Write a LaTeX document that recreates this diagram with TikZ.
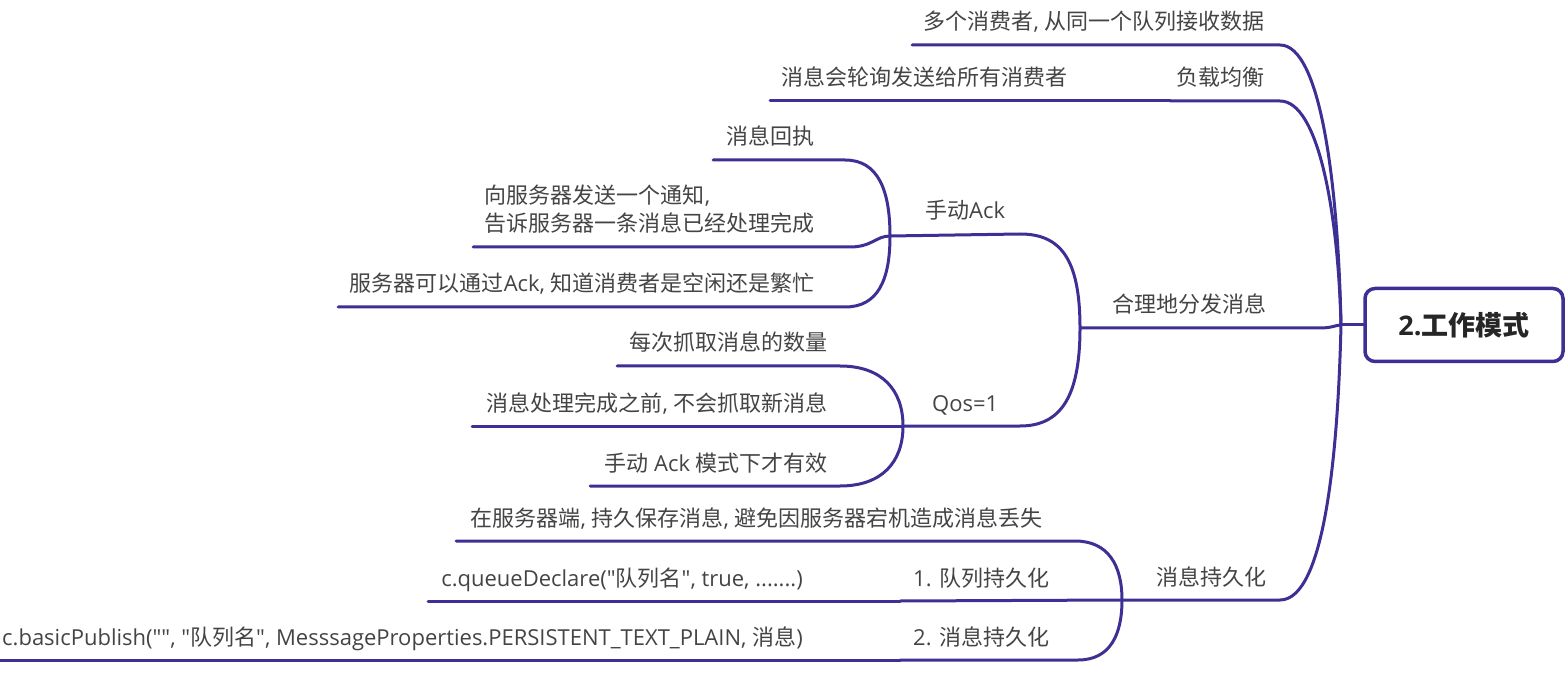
\documentclass[tikz,border=0pt]{standalone}
\usepackage{fontspec}
\setmainfont{Open Sans}[Ligatures=TeXOff]
\newfontfamily\cjkfont{Noto Sans CJK SC}
\newcommand{\zh}[1]{{\cjkfont #1}}
\definecolor{lineblue}{RGB}{61,48,148}
\definecolor{txt}{RGB}{68,68,68}
\tikzset{
  conn/.style={draw=lineblue, line width=3pt, line cap=round},
  topic/.style={anchor=base east, inner sep=0pt, text=txt, font=\fontsize{22}{28}\selectfont},
  topicL/.style={topic, anchor=base west},
  rootbox/.style={draw=lineblue, line width=3.5pt, rounded corners=10pt, fill=white,
    minimum width=198pt, minimum height=73pt, inner sep=0pt, text=black!85,
    font=\fontsize{27}{32}\selectfont}
}
\begin{document}
\begin{tikzpicture}[x=1pt,y=-1pt]
\useasboundingbox (0,0) rectangle (1566,684);

% ---------- junctions and line ends ----------
\coordinate (J0) at (1341,325);
\coordinate (J3) at (1080,328);
\coordinate (J3a) at (890,236);
\coordinate (J3b) at (903,426);
\coordinate (J4) at (1122,600);

\coordinate (a1s) at (912,45);   \coordinate (a1e) at (1280,45);
\coordinate (a2s) at (1170,101); \coordinate (a2e) at (1280,101);
\coordinate (a2cs) at (770,101);
\coordinate (a3e) at (1320,328);
\coordinate (a4e) at (1280,600);

\coordinate (b1e) at (1020,234);
\coordinate (b2e) at (1020,426);

\coordinate (m1s) at (713,160);  \coordinate (m1e) at (845,160);
\coordinate (m2s) at (473,247);  \coordinate (m2e) at (850,247);
\coordinate (m3s) at (338,307);  \coordinate (m3e) at (845,307);

\coordinate (q1s) at (617,366);  \coordinate (q1e) at (840,366);
\coordinate (q2s) at (472,426);
\coordinate (q3s) at (590,486);  \coordinate (q3e) at (840,486);

\coordinate (p1s) at (456,541);  \coordinate (p1e) at (1075,541);
\coordinate (p2s) at (900,601);  \coordinate (p2cs) at (428,601);
\coordinate (p3s) at (900,660);  \coordinate (p3e) at (1078,660);
\coordinate (p3cs) at (0,660);

% ---------- connectors ----------
\draw[conn] (a1s) -- (a1e) .. controls (1320,45) and (1338,180) .. (J0);
\draw[conn] (a2cs) -- (a2s);
\draw[conn] (a2s) -- (a2e) .. controls (1318,101) and (1338,210) .. (J0);
\draw[conn] (J3) -- (a3e) .. controls (1332,328) and (1336,325) .. (J0);
\draw[conn] (J4) -- (a4e) .. controls (1325,600) and (1338,450) .. (J0);

\draw[conn] (J3a) -- (b1e) .. controls (1060,234) and (1080,258) .. (J3);
\draw[conn] (J3b) -- (b2e) .. controls (1060,426) and (1080,398) .. (J3);

\draw[conn] (m1s) -- (m1e) .. controls (878,160) and (890,190) .. (J3a);
\draw[conn] (m2s) -- (m2e) .. controls (872,247) and (876,236) .. (J3a);
\draw[conn] (m3s) -- (m3e) .. controls (878,307) and (890,280) .. (J3a);

\draw[conn] (q1s) -- (q1e) .. controls (882,366) and (903,390) .. (J3b);
\draw[conn] (q2s) -- (J3b);
\draw[conn] (q3s) -- (q3e) .. controls (882,486) and (903,462) .. (J3b);

\draw[conn] (p1s) -- (p1e) .. controls (1108,541) and (1122,565) .. (J4);
\draw[conn] (p2cs) -- (p2s);
\draw[conn] (p2s) -- (J4);
\draw[conn] (p3cs) -- (p3s);
\draw[conn] (p3s) -- (p3e) .. controls (1110,660) and (1122,635) .. (J4);

% ---------- root ----------
\node[rootbox] (root) at (1464,325) {\textbf{2.\zh{工作模式}}};
\draw[conn] (root.west) -- (J0);

% ---------- topics ----------
\node[topic] (t1) at (1265,30) {\zh{多个消费者}, \zh{从同一个队列接收数据}};
\node[topic] (t2) at (1265,86) {\zh{负载均衡}};
\node[topic] (t2c) at (1068,86) {\zh{消息会轮询发送给所有消费者}};
\node[topic] (t3) at (1267,313) {\zh{合理地分发消息}};

\node[topicL] (t3a) at (925,219) {\zh{手动}Ack};
\node[topic] (t3a1) at (815,145) {\zh{消息回执}};
\node[topic] (t3a2) at (815,232) {\vbox{\hbox{\zh{向服务器发送一个通知},}\hbox{\zh{告诉服务器一条消息已经处理完成}}}};
\node[topic] (t3a3) at (815,292) {\zh{服务器可以通过}Ack, \zh{知道消费者是空闲还是繁忙}};

\node[topicL] (t3b) at (932,411) {Qos=1};
\node[topic] (t3b1) at (828,351) {\zh{每次抓取消息的数量}};
\node[topic] (t3b2) at (828,411) {\zh{消息处理完成之前}, \zh{不会抓取新消息}};
\node[topic] (t3b3) at (828,471) {\zh{手动} Ack \zh{模式下才有效}};

\node[topic] (t4) at (1267,585) {\zh{消息持久化}};
\node[topic] (t4a) at (1043,526) {\zh{在服务器端}, \zh{持久保存消息}, \zh{避免因服务器宕机造成消息丢失}};
\node[topicL] (t4b) at (913,586) {1. \zh{队列持久化}};
\node[topic] (t4b1) at (803,586) {c.queueDeclare("\zh{队列名}", true, .......)};
\node[topicL] (t4c) at (913,645) {2. \zh{消息持久化}};
\node[topic] (t4c1) at (803,645) {c.basicPublish("", "\zh{队列名}", MesssageProperties.PERSISTENT\_TEXT\_PLAIN, \zh{消息})};
\end{tikzpicture}
\end{document}
